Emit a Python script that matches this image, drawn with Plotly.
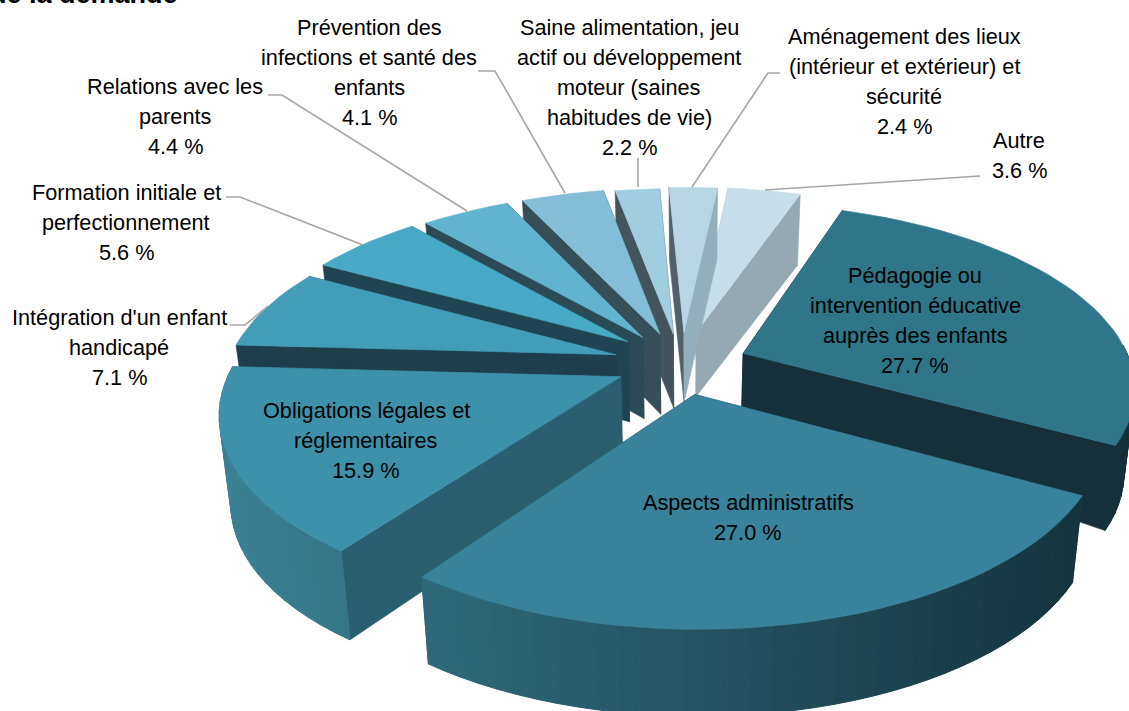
import numpy as np
import plotly.graph_objects as go

# ---------- data ----------
categories = ["Pédagogie ou intervention éducative auprès des enfants", "Aspects administratifs",
              "Obligations légales et réglementaires", "Intégration d'un enfant handicapé",
              "Formation initiale et perfectionnement", "Relations avec les parents",
              "Prévention des infections et santé des enfants",
              "Saine alimentation, jeu actif ou développement moteur (saines habitudes de vie)",
              "Aménagement des lieux (intérieur et extérieur) et sécurité", "Autre"]
values = [27.7, 27.0, 15.9, 7.1, 5.6, 4.4, 4.1, 2.2, 2.4, 3.6]

# ---------- styles ----------
top_colors = ["#2f768a", "#38829b", "#3e91aa", "#439db9", "#47a9c5", "#62b3d0", "#83bdd7", "#a0cddf", "#b7d5e2", "#c8dfeb"]
start_wall = ["#153039", "#1f4b59", "#2a5f70", "#1c3f4b", "#1f4552", "#2a4a56", "#354e57", "#43545c", "#50616a", "#96a8b1"]
end_wall = ["#153039", "#1f4b59", "#2a5f70", "#1c3f4b", "#1f4552", "#2a4a56", "#354e57", "#43545c", "#94aebb", "#96a8b1"]
outer_left = ["#153039", "#2e6a7c", "#3b8095", "#2f6f82", "#2f6f82", "#3f7f92", "#5a8da0", "#7a9fb0", "#94aebb", "#96a8b1"]
outer_right = ["#153039", "#15343d", "#357688", "#2f6f82", "#2f6f82", "#3f7f92", "#5a8da0", "#7a9fb0", "#94aebb", "#96a8b1"]
explode = [0.16, 0.195, 0.17, 0.165, 0.16, 0.155, 0.15, 0.15, 0.16, 0.155]
nudge = [(4, 4), (-3, -2), (3, 3), (-1, 3), (-3, 0), (-4, 1), (-2, 0), (0, 1), (2, 1), (3, 0)]
apex_depth = [53, 70, 80, 78, 80, 81, 80, 74, 70, 64]
outer_depth = [85, 87, 89, 80, 80, 78, 76, 74, 72, 71]
draw_order = [9, 8, 7, 6, 5, 4, 3, 2, 0, 1]
START, R = 19.0, 0.97
CX, CY, AX, BY, K = 680, 360, 400, 185, 0.18

label_lines = [
    (["Pédagogie ou", "intervention éducative", "auprès des enfants", "27.7 %"], 915, 275),
    (["Aspects administratifs", "27.0 %"], 748, 502),
    (["Obligations légales et", "réglementaires", "15.9 %"], 366, 410),
    (["Intégration d'un enfant", "handicapé", "7.1 %"], 119, 317),
    (["Formation initiale et", "perfectionnement", "5.6 %"], 126, 192),
    (["Relations avec les", "parents", "4.4 %"], 175, 86),
    (["Prévention des", "infections et santé des", "enfants", "4.1 %"], 369, 27),
    (["Saine alimentation, jeu", "actif ou développement", "moteur (saines", "habitudes de vie)", "2.2 %"], 629, 27),
    (["Aménagement des lieux", "(intérieur et extérieur) et", "sécurité", "2.4 %"], 904, 36),
    (["Autre", "3.6 %"], 1019, 140),
]
leaders = [
    [(980, 176), (765, 190)],
    [(780, 73), (768, 73), (692, 187)],
    [(638, 158), (638, 187)],
    [(478, 71), (495, 71), (565, 193)],
    [(268, 95), (282, 95), (467, 211)],
    [(226, 197), (240, 197), (363, 245)],
    [(230, 325), (245, 325), (268, 306)],
]


def project(X, Y):
    d = 1 + K * Y
    return CX + AX * X / d, CY - BY * Y / d


def lower(sx, sy, dy):
    return sx + (690 - sx) * 0.025, sy + dy


def hex_rgb(c):
    return np.array([int(c[i:i + 2], 16) for i in (1, 3, 5)], float)


def mix(a, b, t):
    v = hex_rgb(a) * (1 - t) + hex_rgb(b) * t
    return "rgb(%d,%d,%d)" % tuple(v.round())


fig = go.Figure()


def poly(xs, ys, color, w=0.6):
    fig.add_trace(go.Scatter(x=list(xs) + [xs[0]], y=list(ys) + [ys[0]], mode="lines", fill="toself",
                             fillcolor=color, line=dict(color=color, width=w),
                             hoverinfo="skip", showlegend=False))


shares = np.array(values) / sum(values) * 360
edges = START + np.concatenate([[0], np.cumsum(shares)])

for i in draw_order:
    a0, a1 = np.radians(edges[i]), np.radians(edges[i + 1])
    mid = (a0 + a1) / 2
    ox, oy = explode[i] * np.sin(mid), explode[i] * np.cos(mid)
    ang = np.linspace(a0, a1, max(6, int(shares[i] * 0.4)))
    nx, ny = nudge[i]
    arc = [project(ox + R * np.sin(t), oy + R * np.cos(t)) for t in ang]
    arc = [(x + nx, y + ny) for x, y in arc]
    ap = project(ox, oy)
    ap = (ap[0] + nx, ap[1] + ny)
    ap_b = lower(*ap, apex_depth[i])
    arc_b = [lower(x, y, outer_depth[i]) for x, y in arc]
    # radial walls
    poly([ap[0], arc[0][0], arc_b[0][0], ap_b[0]], [ap[1], arc[0][1], arc_b[0][1], ap_b[1]], start_wall[i])
    poly([ap[0], arc[-1][0], arc_b[-1][0], ap_b[0]], [ap[1], arc[-1][1], arc_b[-1][1], ap_b[1]], end_wall[i])
    # curved outer wall (only where it faces the viewer), gradient left to right on screen
    xs_all = [p[0] for p in arc]
    lo, hi = min(xs_all), max(xs_all)
    for j in range(len(arc) - 1):
        if np.cos((ang[j] + ang[j + 1]) / 2) > 0.05:
            continue
        t = ((arc[j][0] + arc[j + 1][0]) / 2 - lo) / max(hi - lo, 1)
        poly([arc[j][0], arc[j + 1][0], arc_b[j + 1][0], arc_b[j][0]],
             [arc[j][1], arc[j + 1][1], arc_b[j + 1][1], arc_b[j][1]],
             mix(outer_left[i], outer_right[i], t), w=1.0)
    # top face
    poly([ap[0]] + [p[0] for p in arc], [ap[1]] + [p[1] for p in arc], top_colors[i])

annotations = []
LINE_H, FS = 30, 21.7
for lines, x, y in label_lines:
    for n, line in enumerate(lines):
        annotations.append(dict(x=x, y=y + n * LINE_H, text=line, xref="x", yref="y", showarrow=False,
                                xanchor="center", yanchor="middle",
                                font=dict(family="Liberation Sans", size=FS, color="#000000")))
annotations.append(dict(x=180, y=11, text="<b>de la demande</b>", xref="x", yref="y", showarrow=False,
                        xanchor="right", yanchor="bottom",
                        font=dict(family="Liberation Sans", size=27, color="#000000")))

shapes = []
for pts in leaders:
    path = "M " + " L ".join("%g,%g" % p for p in pts)
    shapes.append(dict(type="path", path=path, xref="x", yref="y", line=dict(color="#a6a6a6", width=1.6)))

fig.update_layout(width=1129, height=711, margin=dict(l=0, r=0, t=0, b=0), paper_bgcolor="white",
                  plot_bgcolor="white", annotations=annotations, shapes=shapes,
                  xaxis=dict(range=[0, 1129], visible=False, fixedrange=True),
                  yaxis=dict(range=[711, 0], visible=False, fixedrange=True))
fig.write_html("out.html", config=dict(displayModeBar=False),
               post_script="document.body.style.margin='0';document.body.style.overflow='hidden';")
